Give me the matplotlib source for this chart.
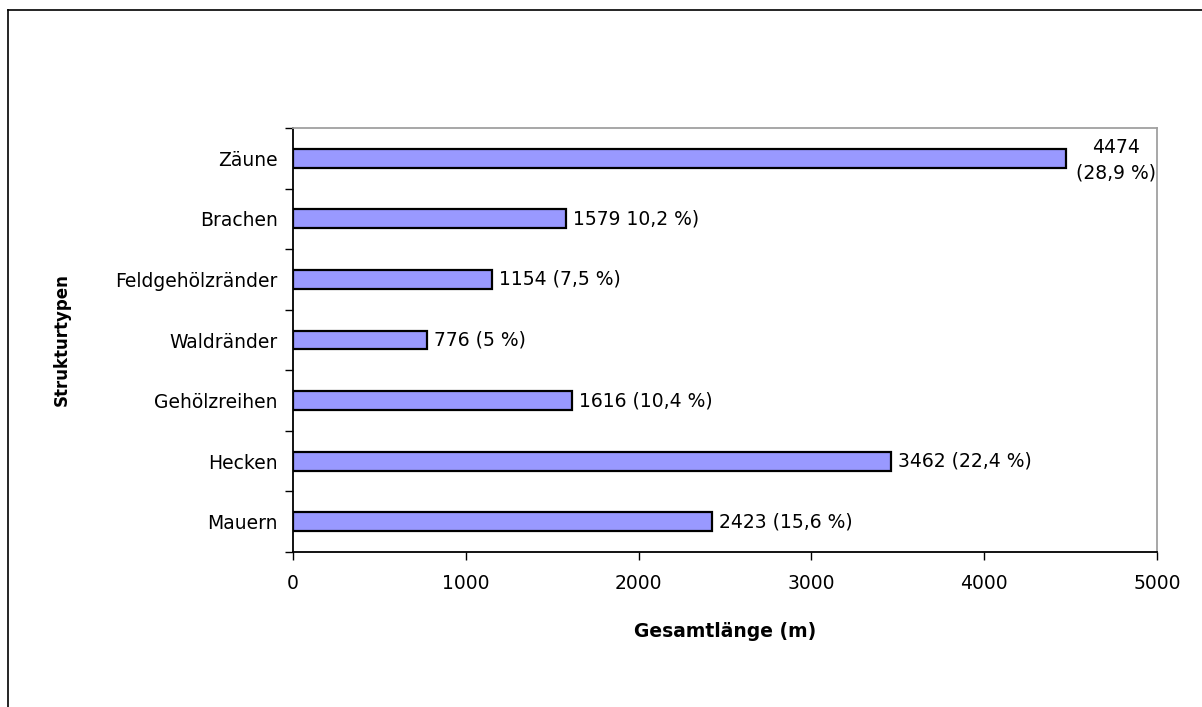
import matplotlib.pyplot as plt
from matplotlib.lines import Line2D

plt.rcParams['font.family'] = ['DejaVu Sans']

categories = ['Mauern', 'Hecken', 'Gehölzreihen', 'Waldränder',
              'Feldgehölzränder', 'Brachen', 'Zäune']
values = [2423, 3462, 1616, 776, 1154, 1579, 4474]
labels = ['2423 (15,6 %)', '3462 (22,4 %)', '1616 (10,4 %)', '776 (5 %)',
          '1154 (7,5 %)', '1579 10,2 %)', '4474\n(28,9 %)']

W, H = 1202, 707
fig = plt.figure(figsize=(W / 100, H / 100), dpi=100)
ax = fig.add_axes([293 / W, 1 - 552 / H, (1157 - 293) / W, (552 - 128) / H])

ypos = list(range(len(categories)))
ax.barh(ypos, values, height=0.31, color='#9999FF', edgecolor='black', linewidth=1.6, zorder=3)

fs = 13.5
for y, v, lab in zip(ypos, values, labels):
    if '\n' in lab:
        # wrapped label sits past the bar end, partly outside the plot area
        ax.text(v + 290, y - 0.03, lab, ha='center', va='center', fontsize=fs,
                linespacing=1.45, clip_on=False)
    else:
        ax.text(v + 40, y, lab, ha='left', va='center', fontsize=fs)

ax.set_xlim(0, 5000)
ax.set_ylim(-0.5, len(categories) - 0.5)
ax.set_xticks([0, 1000, 2000, 3000, 4000, 5000])
ax.set_yticks(ypos)
ax.set_yticklabels(categories)
ax.set_yticks([i - 0.5 for i in range(len(categories) + 1)], minor=True)
ax.tick_params(axis='y', which='major', length=0, pad=11, labelsize=fs)
ax.tick_params(axis='y', which='minor', length=6, width=1, direction='out')
ax.tick_params(axis='x', length=6, width=1, direction='out', pad=10, labelsize=fs)

ax.spines['left'].set_color('black')
ax.spines['bottom'].set_color('black')
ax.spines['top'].set_color('#a0a0a0')
ax.spines['right'].set_color('#a0a0a0')
for s in ax.spines.values():
    s.set_linewidth(1.3)

ax.set_xlabel('Gesamtlänge (m)', fontsize=13.5, fontweight='bold', labelpad=21)
ax.set_ylabel('Strukturtypen', fontsize=12, fontweight='bold', labelpad=32)

# outer chart border (left and top edges visible)
fig.add_artist(Line2D([8 / W, 8 / W], [0, 1 - 10 / H], transform=fig.transFigure, color='black', lw=1.2))
fig.add_artist(Line2D([8 / W, 1], [1 - 10 / H, 1 - 10 / H], transform=fig.transFigure, color='black', lw=1.2))

fig.savefig('out.png', dpi=100)
